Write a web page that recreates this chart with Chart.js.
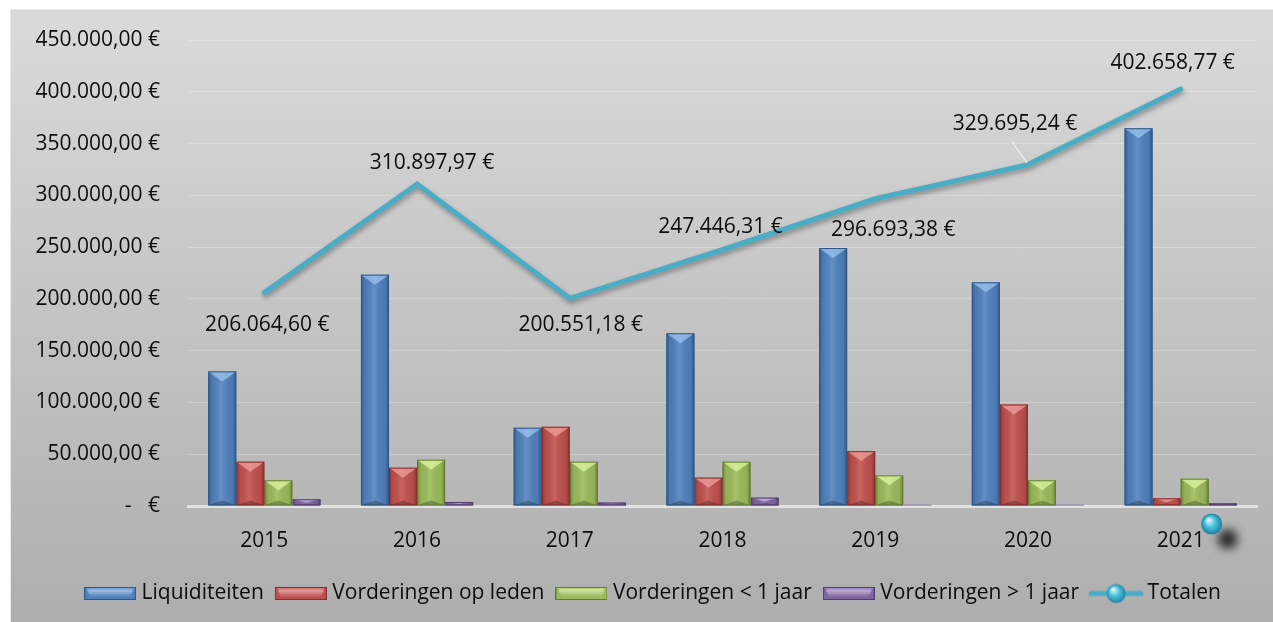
<!DOCTYPE html>
<html><head><meta charset="utf-8">
<script src="https://cdn.jsdelivr.net/npm/chart.js@4"></script>
<style>
html,body{margin:0;padding:0;background:#ffffff;width:1273px;height:622px;overflow:hidden}
#frame{position:absolute;left:11px;top:10px;width:1262px;height:612px;background:linear-gradient(#dadada,#aeaeae)}
#edge{position:absolute;left:10px;top:9px;width:1263px;height:613px;border-left:1px solid #ebeae2;border-top:1px solid #ebeae2;box-sizing:border-box}
canvas{position:absolute;left:0;top:0}
</style></head>
<body>
<div id="edge"></div>
<div id="frame"><canvas id="c" width="1262" height="612"></canvas></div>
<script>
// ---- data ----
const categories = ['2015','2016','2017','2018','2019','2020','2021'];
const liquiditeiten     = [130000, 223400, 75600, 166800, 249100, 216000, 364800];
const vorderingenLeden  = [42800, 37000, 76500, 27400, 53000, 98000, 7400];
const vorderingenKort   = [24800, 44700, 42800, 42800, 29600, 24800, 26400];
const vorderingenLang   = [6500, 3900, 3300, 8100, 1300, 1300, 2600];
const totalen           = [206064.60, 310897.97, 200551.18, 247446.31, 296693.38, 329695.24, 402658.77];
const seriesNames = ['Liquiditeiten','Vorderingen op leden','Vorderingen < 1 jaar','Vorderingen > 1 jaar','Totalen'];
const yTickLabels = ['-\u00a0\u00a0\u00a0€','50.000,00 €','100.000,00 €','150.000,00 €','200.000,00 €','250.000,00 €','300.000,00 €','350.000,00 €','400.000,00 €','450.000,00 €'];

// ---- style ----
const FONT = "'Open Sans', sans-serif";
const FS = 21;
const barColors   = ['#4f81bd','#c0504d','#9bbb59','#8064a2'];
const barBorders  = ['#2f5584','#842f2d','#62792f','#513d6b'];
const barLights   = ['#9cc3f0','#f0a09e','#e0f5a0','#c9b3ea'];
const lineColor = '#4bacc6';
// label offsets relative to each point (style, not data)
const labelOffsets = [[3,32],[15,-21],[11,27],[-2,-23],[18,31],[-13,-41],[-8,-26]];
const leaderFor = [false,false,false,false,false,true,false];

function fmtEuro(v){
  const parts = v.toFixed(2).split('.');
  const int = parts[0].replace(/\B(?=(\d{3})+(?!\d))/g,'.');
  return int + ',' + parts[1] + ' €';
}

function boxImage(i){
  const c = document.createElement('canvas'); c.width = 52; c.height = 13;
  const x = c.getContext('2d');
  x.fillStyle = barColors[i]; x.fillRect(0,0,52,13);
  const g = x.createLinearGradient(0,0,0,13);
  g.addColorStop(0,'rgba(255,255,255,0.0)');
  g.addColorStop(0.3,'rgba(255,255,255,0.45)');
  g.addColorStop(0.6,'rgba(255,255,255,0.15)');
  g.addColorStop(1,'rgba(0,0,0,0.15)');
  x.fillStyle = g;
  x.beginPath(); x.moveTo(3,3); x.lineTo(49,3); x.lineTo(46,10); x.lineTo(6,10); x.closePath(); x.fill();
  x.fillStyle = barLights[i]; x.globalAlpha = 0.55;
  x.beginPath(); x.moveTo(0,0); x.lineTo(52,0); x.lineTo(46,4); x.lineTo(6,4); x.closePath(); x.fill();
  x.globalAlpha = 1;
  x.strokeStyle = barBorders[i]; x.lineWidth = 1; x.strokeRect(0.5,0.5,51,12);
  return c;
}
function lineImage(){
  const c = document.createElement('canvas'); c.width = 56; c.height = 22;
  const x = c.getContext('2d');
  x.strokeStyle = lineColor; x.lineWidth = 5; x.lineCap = 'round';
  x.beginPath(); x.moveTo(3,11); x.lineTo(53,11); x.stroke();
  const g = x.createRadialGradient(25,7,1,28,11,10);
  g.addColorStop(0,'#d6f4fb'); g.addColorStop(0.45,'#4cc0dd'); g.addColorStop(1,'#1f7f9c');
  x.fillStyle = g; x.beginPath(); x.arc(28,11,9.5,0,Math.PI*2); x.fill();
  return c;
}
const legendImages = [boxImage(0),boxImage(1),boxImage(2),boxImage(3),lineImage()];

const shadowPlugin = {
  id:'lineShadow',
  beforeDatasetDraw(chart,args){
    if(args.meta.type==='line'){
      const ctx = chart.ctx; ctx.save();
      ctx.shadowColor='rgba(0,0,0,0.35)'; ctx.shadowBlur=5; ctx.shadowOffsetX=1; ctx.shadowOffsetY=3;
    }
  },
  afterDatasetDraw(chart,args){ if(args.meta.type==='line') chart.ctx.restore(); }
};

const legendShift = {
  id:'legendShift',
  afterLayout(chart){ if(chart.legend){ chart.legend.left += 42; } }
};

const bevelPlugin = {
  id:'bevel',
  afterDatasetDraw(chart,args){
    const meta = args.meta; if(meta.type!=='bar') return;
    const ctx = chart.ctx; const di = args.index;
    meta.data.forEach(el=>{
      const p = el.getProps(['x','y','base','width'],true);
      const L = p.x - p.width/2, R = p.x + p.width/2, T = Math.min(p.y,p.base), B = Math.max(p.y,p.base);
      const H = B - T; if(H<1) return;
      ctx.save();
      ctx.beginPath(); ctx.rect(L,T,R-L,H); ctx.clip();
      const g = ctx.createLinearGradient(L,0,R,0);
      g.addColorStop(0,'rgba(0,0,0,0.28)');
      g.addColorStop(0.14,'rgba(0,0,0,0.05)');
      g.addColorStop(0.45,'rgba(255,255,255,0.12)');
      g.addColorStop(0.86,'rgba(0,0,0,0.05)');
      g.addColorStop(1,'rgba(0,0,0,0.32)');
      ctx.fillStyle = g; ctx.fillRect(L,T,R-L,H);
      const th = Math.min(10, H/2);
      ctx.fillStyle = barLights[di]; ctx.globalAlpha = 0.75;
      ctx.beginPath(); ctx.moveTo(L,T); ctx.lineTo(R,T); ctx.lineTo(p.x,T+th); ctx.closePath(); ctx.fill();
      ctx.globalAlpha = 0.25; ctx.fillStyle = '#000';
      ctx.beginPath(); ctx.moveTo(L,B); ctx.lineTo(R,B); ctx.lineTo(p.x,B-Math.min(5,H/3)); ctx.closePath(); ctx.fill();
      ctx.restore();
      ctx.save(); ctx.strokeStyle = barBorders[di]; ctx.lineWidth = 1;
      ctx.strokeRect(L+0.5,T+0.5,R-L-1,H-1); ctx.restore();
    });
  }
};

const labelPlugin = {
  id:'totalLabels',
  afterDatasetsDraw(chart){
    const ctx = chart.ctx;
    const li = chart.data.datasets.findIndex(d=>d.type==='line');
    const meta = chart.getDatasetMeta(li);
    ctx.save();
    ctx.font = FS + 'px ' + FONT; ctx.fillStyle = '#0d0d0d';
    ctx.textAlign = 'center'; ctx.textBaseline = 'middle';
    meta.data.forEach((pt,i)=>{
      const [dx,dy] = labelOffsets[i];
      const tx = pt.x+dx, ty = pt.y+dy;
      ctx.fillText(fmtEuro(totalen[i]), tx, ty);
      if(leaderFor[i]){
        ctx.save(); ctx.strokeStyle='rgba(255,255,255,0.9)'; ctx.lineWidth=1;
        ctx.beginPath(); ctx.moveTo(tx-3, ty+18); ctx.lineTo(pt.x-1, pt.y-2); ctx.stroke(); ctx.restore();
      }
    });
    // stray marker sphere near the last category label
    const xs = chart.scales.x, ys = chart.scales.y;
    const mx = xs.getPixelForValue(categories.length-1)+31, my = ys.getPixelForValue(0)+18;
    ctx.save(); ctx.filter='blur(5px)'; ctx.fillStyle='rgba(20,20,20,0.85)';
    ctx.beginPath(); ctx.arc(mx+16,my+15,10,0,Math.PI*2); ctx.fill(); ctx.restore();
    const g = ctx.createRadialGradient(mx-3,my-4,1,mx,my,10.5);
    g.addColorStop(0,'#d6f4fb'); g.addColorStop(0.45,'#4cc0dd'); g.addColorStop(1,'#1f7f9c');
    ctx.fillStyle=g; ctx.beginPath(); ctx.arc(mx,my,10.5,0,Math.PI*2); ctx.fill();
    ctx.restore();
  }
};

const barSeries = [liquiditeiten, vorderingenLeden, vorderingenKort, vorderingenLang];
const datasets = barSeries.map((d,i)=>({
  type:'bar', label: seriesNames[i], data: d,
  backgroundColor: barColors[i], borderWidth: 0,
  categoryPercentage: 0.735, barPercentage: 1.0
}));
datasets.push({
  type:'line', label: seriesNames[4], data: totalen,
  borderColor: lineColor, borderWidth: 5, pointRadius: 0, tension: 0, fill:false,
  borderJoinStyle:'miter', borderCapStyle:'round'
});

Chart.defaults.font.family = FONT;
Chart.defaults.font.size = FS;
Chart.defaults.color = '#0d0d0d';

new Chart(document.getElementById('c'), {
  data: { labels: categories, datasets },
  options: {
    responsive:false, animation:false,
    layout:{ padding:{ top:30, right:16, bottom:8, left:0 } },
    plugins:{
      tooltip:{enabled:false},
      legend:{
        position:'bottom',
        labels:{
          usePointStyle:true, pointStyleWidth:42, padding:16, color:'#0d0d0d',
          font:{ family:FONT, size:FS },
          generateLabels(chart){
            const items = Chart.defaults.plugins.legend.labels.generateLabels(chart);
            items.forEach(it=>{ it.pointStyle = legendImages[it.datasetIndex]; });
            return items;
          }
        }
      }
    },
    scales:{
      x:{
        grid:{ display:false, drawTicks:false },
        border:{ display:true, color:'#e2e2e2', width:3 },
        ticks:{ padding:22, color:'#0d0d0d', font:{size:FS} },
        afterFit(s){ s.height = 61; }
      },
      y:{
        min:0, max:450000,
        ticks:{ stepSize:50000, padding:6, color:'#0d0d0d', font:{size:FS},
          callback:(v)=> yTickLabels[Math.round(v/50000)] },
        grid:{ color:'rgba(255,255,255,0.22)', lineWidth:1, drawTicks:true, tickLength:22, tickColor:'rgba(0,0,0,0)' },
        border:{ display:false },
        afterFit(s){ s.width = 177; }
      }
    }
  },
  plugins:[shadowPlugin, bevelPlugin, labelPlugin, legendShift]
});
</script>
</body></html>
